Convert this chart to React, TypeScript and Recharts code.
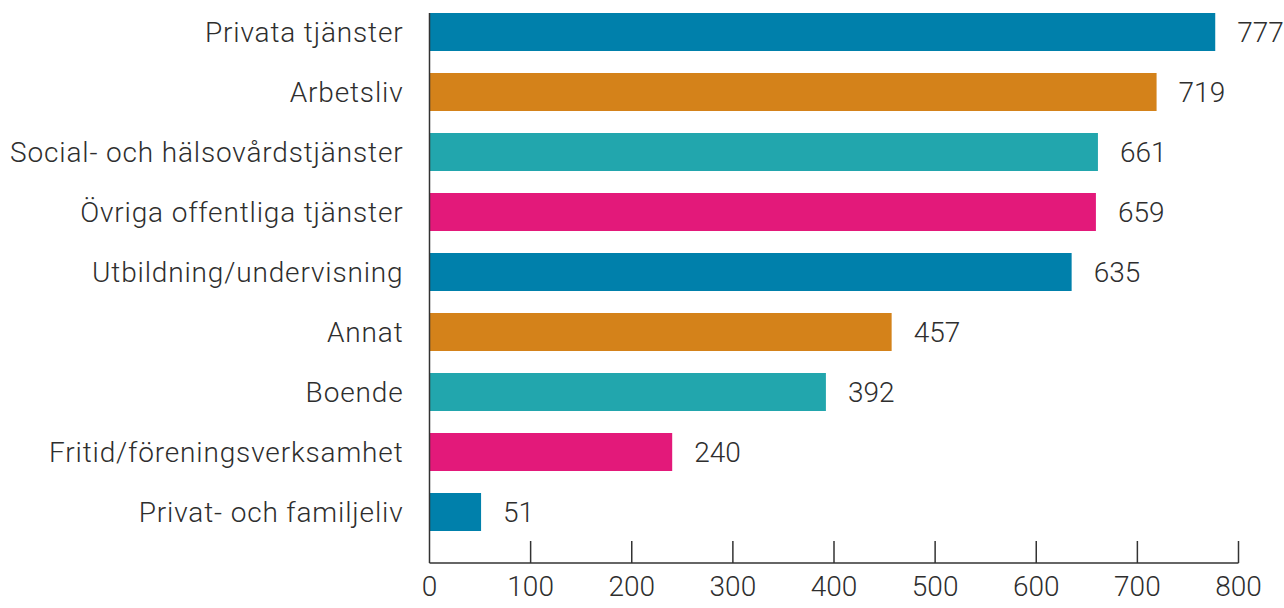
import { BarChart, Bar, XAxis, YAxis, Cell, LabelList } from 'recharts';

const categories = [
  'Privata tjänster',
  'Arbetsliv',
  'Social- och hälsovårdstjänster',
  'Övriga offentliga tjänster',
  'Utbildning/undervisning',
  'Annat',
  'Boende',
  'Fritid/föreningsverksamhet',
  'Privat- och familjeliv',
];
const values = [777, 719, 661, 659, 635, 457, 392, 240, 51];
const palette = ['#0080ab', '#d4821a', '#22a6ad', '#e3197a'];
const xTicks = [0, 100, 200, 300, 400, 500, 600, 700, 800];

const data = categories.map((name, i) => ({ name, value: values[i] }));

const FONT = 'Roboto, sans-serif';
const TEXT = '#2e2e2e';

function XTick(props: any) {
  const { x, y, payload } = props;
  return (
    <g>
      {payload.value !== 0 && (
        <line x1={x} x2={x} y1={y - 22} y2={y} stroke="#333" strokeWidth={1.5} />
      )}
      <text x={x} y={y + 23} dy="0.35em" textAnchor="middle" fill={TEXT}
        style={{ fontFamily: FONT, fontSize: 28, fontWeight: 300 }}>
        {payload.value}
      </text>
    </g>
  );
}

export default function App() {
  return (
    <div style={{ position: 'absolute', left: 0, top: 0 }}>
      <BarChart
        width={1284}
        height={608}
        data={data}
        layout="vertical"
        margin={{ top: 13, right: 45.5, left: 0, bottom: 0 }}
      >
        <XAxis
          type="number"
          domain={[0, 800]}
          ticks={xTicks}
          height={45}
          tickSize={0}
          tickMargin={0}
          tickLine={false}
          axisLine={{ stroke: '#333', strokeWidth: 1.5 }}
          tick={<XTick />}
          interval={0}
        />
        <YAxis
          type="category"
          dataKey="name"
          width={429.5}
          padding={{ top: -11, bottom: 21 }}
          tickLine={false}
          tickSize={0}
          tickMargin={26}
          axisLine={{ stroke: '#333', strokeWidth: 1.5 }}
          tick={{ fill: TEXT, fontSize: 28, fontFamily: FONT, fontWeight: 300, letterSpacing: 0.85 }}
          interval={0}
        />
        <Bar dataKey="value" barSize={38} isAnimationActive={false}>
          {data.map((d, i) => (
            <Cell key={d.name} fill={palette[i % palette.length]} />
          ))}
          <LabelList
            dataKey="value"
            position="right"
            offset={22}
            style={{ fill: TEXT, fontSize: 28, fontFamily: FONT, fontWeight: 300 }}
          />
        </Bar>
      </BarChart>
    </div>
  );
}
